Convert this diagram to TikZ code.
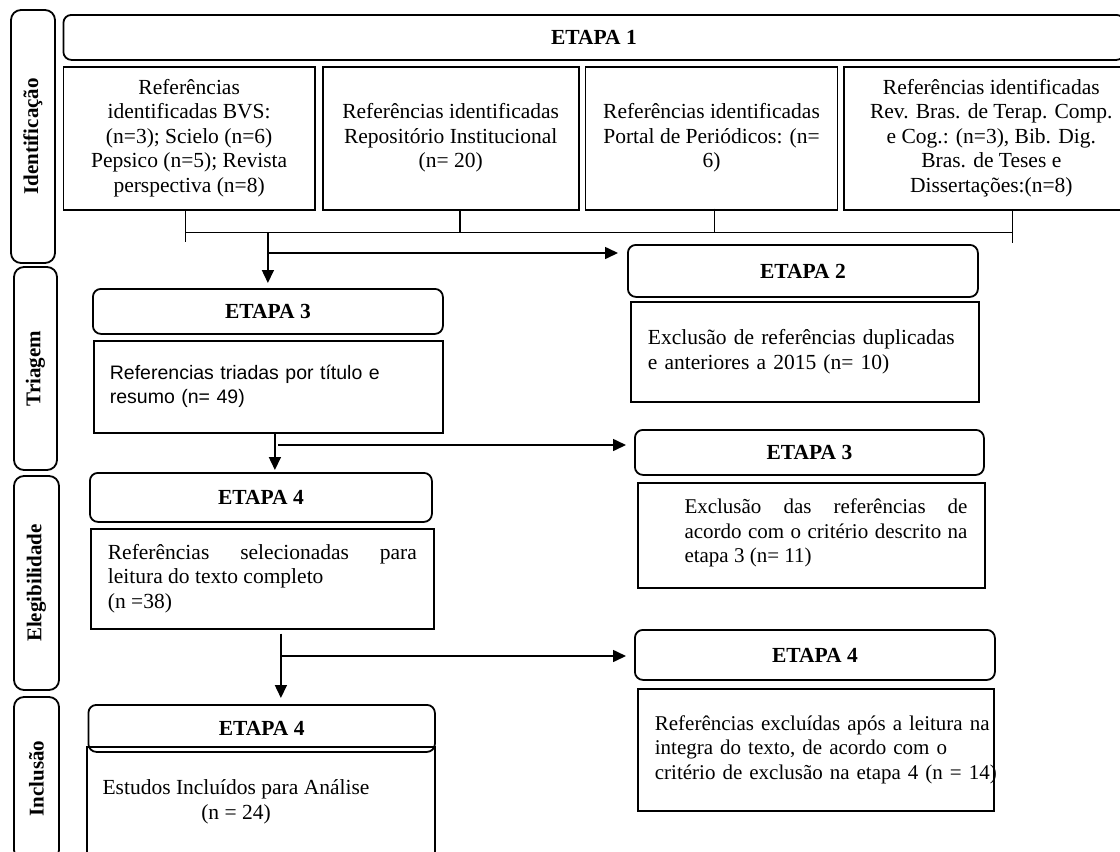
\documentclass[tikz,border=0pt]{standalone}
\usepackage{fontspec}
\setmainfont{Liberation Serif}
\newfontfamily\arialfont{Liberation Sans}
\usetikzlibrary{arrows.meta,positioning}
\hyphenpenalty=10000
\exhyphenpenalty=10000

\begin{document}
\begin{tikzpicture}[x=1pt,y=-1pt,font=\fontsize{21.5}{24.5}\selectfont,
side/.style={draw,line width=1.8pt,rounded corners=10pt,rotate=90,inner sep=0pt,font=\fontsize{21}{24}\selectfont\bfseries},
hd/.style={draw,line width=1.8pt,rounded corners=8pt,anchor=north west,inner sep=0pt,font=\fontsize{21.5}{24.5}\selectfont\bfseries},
bx/.style={draw,line width=1.8pt,anchor=north west,inner sep=0pt},
a/.style={-{Triangle[length=13pt,width=12pt]},line width=1.6pt},
l/.style={line width=1.6pt},
thin/.style={line width=1pt}]
\useasboundingbox (0,0) rectangle (1120,852);
% phases on the left
\node[side,minimum width=253pt,minimum height=44pt](idf) at (33,136.5){Identificação};
\node[side,minimum width=203pt,minimum height=43pt](tri) at (35.5,368.5){Triagem};
\node[side,minimum width=214pt,minimum height=45pt](ele) at (36.5,583){Elegibilidade};
\node[side,minimum width=163pt,minimum height=45pt](inc) at (36.5,778.5){Inclusão};
% etapa 1
\node[hd,minimum width=1061pt,minimum height=45pt](e1) at (62.5,14){ETAPA 1};
\node[bx,minimum width=251.5pt,minimum height=143pt,align=center,below=5pt of e1.south west,anchor=north west](r1){Referências\\identificadas BVS:\\(n=3); Scielo (n=6)\\Pepsico (n=5); Revista\\perspectiva (n=8)};
\node[bx,minimum width=256pt,minimum height=143pt,align=center,right=6pt of r1,anchor=west](r2){Referências identificadas\\Repositório Institucional\\(n= 20)};
\node[bx,minimum width=252pt,minimum height=143pt,align=center,right=5pt of r2,anchor=west](r3){Referências identificadas\\Portal de Periódicos: (n=\\6)};
\node[bx,minimum width=294pt,minimum height=143pt,align=center,right=5pt of r3,anchor=west](r4){Referências identificadas\\Rev. Bras. de Terap. Comp.\\e Cog.: (n=3), Bib. Dig.\\Bras. de Teses e\\Dissertações:(n=8)};
\coordinate(bus) at (0,232);
\draw[thin]([xshift=-4pt]r1.south)--+(0,31);
\draw[l]([xshift=9pt]r2.south)--([xshift=9pt]r2.south|-bus);
\draw[l]([xshift=3pt,yshift=2pt]r3.south)--([xshift=3pt]r3.south|-bus);
\draw[l]([xshift=21pt]r4.south)--+(0,32);
\draw[thin]([xshift=-4pt]r1.south|-bus)--([xshift=21pt]r4.south|-bus);
% etapa 2 and 3
\node[hd,minimum width=350pt,minimum height=52pt](e2) at (627,244){ETAPA 2};
\node[bx,minimum height=100pt,text width=314pt,inner xsep=17pt,align=left,below=3pt of e2.south west,anchor=north west,xshift=3pt](x1){Exclusão de referências duplicadas\\e anteriores a 2015 (n= 10)};
\node[hd,minimum width=350pt,minimum height=45pt](e3a) at (92,288){ETAPA 3};
\node[bx,minimum height=92pt,text width=317pt,inner xsep=16pt,align=left,font=\arialfont\fontsize{19.5}{24}\selectfont,below=5pt of e3a.south west,anchor=north west,xshift=1pt](t1){Referencias triadas por título e\\resumo (n= 49)};
\draw[a,shorten >=5pt](e3a.north|-bus)--(e3a.north);
\coordinate(c1) at (269,253);
\draw[a,shorten >=9pt](c1)--(c1-|e2.west);
\node[hd,minimum width=349pt,minimum height=45pt](e3b) at (634,429){ETAPA 3};
\node[bx,minimum width=347pt,minimum height=105pt,below=6pt of e3b.south west,anchor=north west,xshift=3pt](x2){};
\node[text width=283pt,align=justify,inner sep=0pt,font=\fontsize{21}{24.5}\selectfont](x2t) at (826,533){Exclusão das referências de\linebreak acordo com o critério descrito na\linebreak etapa 3 (n= 11)};
% etapa 4
\node[hd,minimum width=342pt,minimum height=49pt](e4a) at (89,472){ETAPA 4};
\node[bx,minimum height=100pt,text width=309pt,inner xsep=17pt,align=justify,below=5pt of e4a.south west,anchor=north west,xshift=1pt](sel){Referências selecionadas para\linebreak leitura do texto completo\\(n =38)};
\draw[a,shorten >=2pt]([xshift=6.5pt]t1.south)--([xshift=6.5pt]t1.south|-e4a.north);
\coordinate(c2) at (278,445);
\draw[a,shorten >=8pt](c2)--(c2-|e3b.west);
\node[hd,minimum width=360pt,minimum height=50pt](e4b) at (634,629){ETAPA 4};
\node[bx,minimum height=122pt,text width=322pt,inner xsep=17pt,align=left,font=\fontsize{21}{24.5}\selectfont,below=7pt of e4b.south west,anchor=north west,xshift=3pt](exc){\mbox{Referências excluídas após a leitura na}\\integra do texto, de acordo com o\\\mbox{critério de exclusão na etapa 4 (n = 14)}};
\node[hd,minimum width=346.5pt,minimum height=47pt](e4c) at (87.5,704){ETAPA 4};
\node[bx,minimum width=348pt,minimum height=112pt](est) at (86,746){};
\node[align=center,inner sep=0pt](estt) at (236,802){Estudos Incluídos para Análise\\(n = 24)};
\draw[a,shorten >=6pt]([xshift=18.5pt,yshift=-4pt]sel.south)--([xshift=18.5pt]sel.south|-e4c.north);
\coordinate(c3) at (282,656);
\draw[a,shorten >=8pt](c3)--(c3-|e4b.west);
\end{tikzpicture}
\end{document}
